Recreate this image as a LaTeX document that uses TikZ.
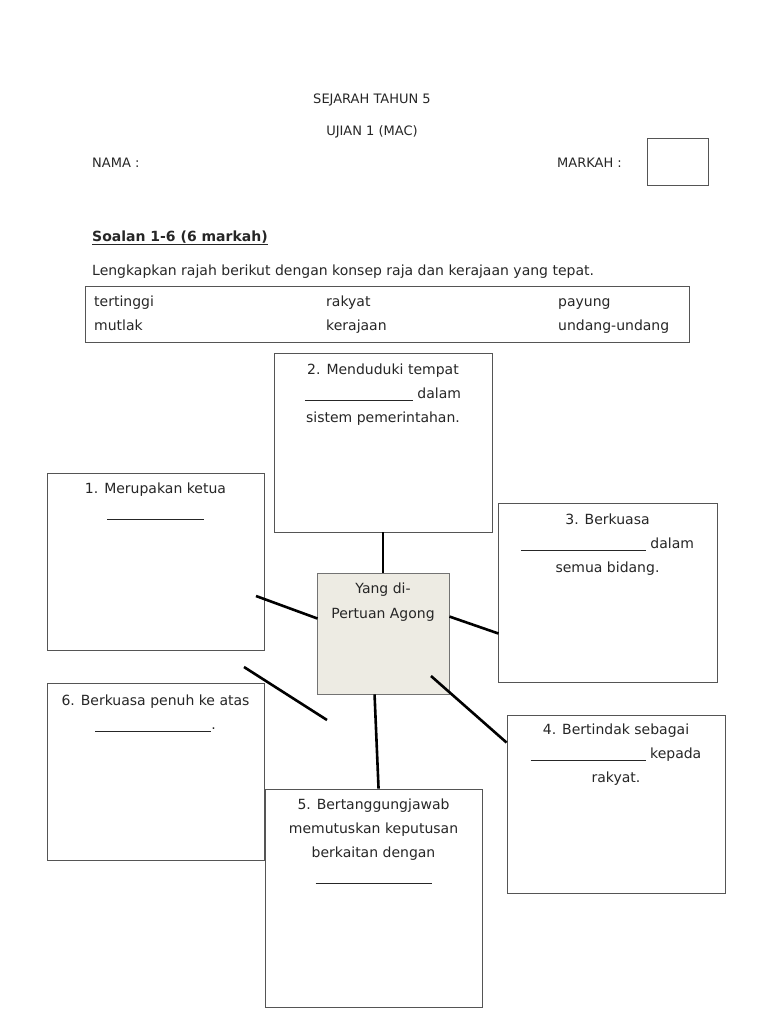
\documentclass[tikz,border=0pt]{standalone}
\usepackage{fontspec}
\setmainfont{DejaVu Sans}
\usetikzlibrary{calc}
\newcommand{\blank}[1]{\rule[-2.5pt]{#1}{0.7pt}}
\definecolor{boxline}{HTML}{555555}
\definecolor{centrefill}{HTML}{EDEBE3}
\tikzset{
  every node/.style={font=\fontsize{14}{24}\selectfont, text=black!85},
  qbox/.style={draw=boxline, line width=0.9pt, fill=white, inner sep=0pt},
  qtext/.style={align=center, anchor=base, inner sep=0pt},
  plain/.style={anchor=base west, inner sep=0pt},
  link/.style={line width=2.6pt, black}
}
\begin{document}
\begin{tikzpicture}[x=1pt,y=-1pt]
\useasboundingbox (0,0) rectangle (768,1024);
% header
\node[qtext, font=\fontsize{13}{24}\selectfont] (t1) at (372,104) {SEJARAH TAHUN 5};
\node[qtext, font=\fontsize{13}{24}\selectfont] (t2) at (372,136) {UJIAN 1 (MAC)};
\node[plain, font=\fontsize{13}{24}\selectfont] (nama) at (92,168) {NAMA :};
\node[plain, font=\fontsize{13}{24}\selectfont] (markah) at (557,168) {MARKAH :};
\node[qbox, minimum width=61pt, minimum height=47pt] (mbox) at (677.5,161.5) {};
\node[plain] (soalan) at (92,241) {\underline{\textbf{Soalan 1-6 (6 markah)}}};
\node[plain] (instr) at (92,275) {Lengkapkan rajah berikut dengan konsep raja dan kerajaan yang tepat.};
% word table
\node[qbox, minimum width=604pt, minimum height=56pt] (tbl) at (387,314) {};
\node[plain] (w1) at (94,306) {tertinggi};
\node[plain] (w2) at (94,330) {mutlak};
\node[plain] (w3) at (326,306) {rakyat};
\node[plain] (w4) at (326,330) {kerajaan};
\node[plain] (w5) at (558,306) {payung};
\node[plain] (w6) at (558,330) {undang-undang};
% boxes
\node[qbox, minimum width=218pt, minimum height=179pt] (b2) at (383,442.5) {};
\node[qbox, minimum width=217pt, minimum height=177pt] (b1) at (155.5,561.5) {};
\node[qbox, minimum width=219pt, minimum height=179pt] (b3) at (607.5,592.5) {};
\node[qbox, minimum width=217pt, minimum height=177pt] (b6) at (155.5,771.5) {};
\node[qbox, minimum width=218pt, minimum height=178pt] (b4) at (616,804) {};
\node[qbox, minimum width=217pt, minimum height=218pt] (b5) at (373.5,898) {};
\node[qbox, fill=centrefill, draw=black!55, minimum width=132pt, minimum height=121pt] (c) at (383,633.5) {};
% connectors
\coordinate (l1a) at (256,596);
\coordinate (d1a) at (244,667);
\coordinate (d1b) at (327,720);
\coordinate (r4a) at (431,676);
\draw[link] (b2.south -| 383,0) -- (c.north -| 383,0);
\draw[link] (l1a) -- ($(c.north west)+(1,46)$);
\draw[link] ($(c.north east)+(0,44)$) -- ($(b3.north west)+(1,131)$);
\draw[link] (d1a) -- (d1b);
\draw[link] ($(c.south west)+(58,0)$) -- ($(b5.north west)+(114,0)$);
\draw[link] (r4a) -- ($(b4.north west)+(0,28)$);
% texts (anchor base = baseline of the last line)
\node[qtext] (x2) at (383,422) {2. Menduduki tempat\\\blank{108pt} dalam\\sistem pemerintahan.};
\node[qtext] (x1) at (155.5,517) {1. Merupakan ketua\\\blank{97pt}};
\node[qtext] (x3) at (607.5,572) {3. Berkuasa\\\blank{125pt} dalam\\semua bidang.};
\node[qtext, font=\fontsize{14}{25}\selectfont] (xc) at (383,618) {Yang di-\\Pertuan Agong};
\node[qtext] (x6) at (155.5,729) {6. Berkuasa penuh ke atas\\\blank{116pt}.};
\node[qtext] (x4) at (616,782) {4. Bertindak sebagai\\\blank{115pt} kepada\\rakyat.};
\node[qtext] (x5) at (373.5,881) {5. Bertanggungjawab\\memutuskan keputusan\\berkaitan dengan\\\blank{116pt}};
\end{tikzpicture}
\end{document}
